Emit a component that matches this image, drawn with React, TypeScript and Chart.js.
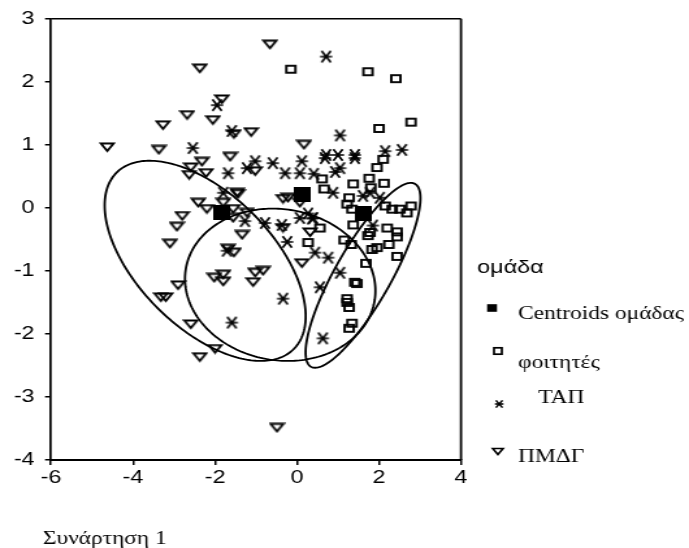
import React, { useEffect, useRef } from 'react';
import { Chart, registerables } from 'chart.js';

Chart.register(...registerables);

// ---------- data ----------
const seriesLabels = ['Centroids ομάδας', 'φοιτητές', 'ΤΑΠ', 'ΠΜΔΓ'];
const legendTitle = 'ομάδα';
const xAxisTitle = 'Συνάρτηση 1';
const xTickRange = [-6, 4, 2]; // min, max, step
const yTickRange = [-4, 3, 1];

const pmdgPoints = [
  [-4.63, 0.96], [-3.37, 0.92], [-3.27, 1.31], [-2.68, 1.47], [-2.37, 2.21], [-2.05, 1.39],
  [-1.83, 1.72], [-1.54, 1.17], [-1.12, 1.2], [-2.32, 0.73], [-2.59, 0.64], [-2.63, 0.52],
  [-2.22, 0.55], [-1.63, 0.81], [-1.46, 0.24], [-2.41, 0.08], [-2.2, -0.02], [-1.8, 0.08],
  [-1.56, -0.02], [-2.8, -0.13], [-2.93, -0.3], [-3.1, -0.57], [-2.9, -1.23], [-3.32, -1.42],
  [-3.2, -1.42], [-2.59, -1.85], [-2.0, -2.24], [-2.37, -2.37], [-1.68, -0.65], [-1.54, -0.71],
  [-2.02, -1.11], [-1.8, -1.06], [-1.8, -1.17], [-1.34, -0.43], [-1.02, -1.03], [-1.07, -1.18],
  [-1.56, -0.16], [-1.44, 0.22], [-1.22, -0.08], [-0.66, 2.59], [0.17, 1.0], [-1.02, 0.58],
  [-0.34, 0.14], [-0.22, 0.16], [0.07, 0.08], [-0.34, -0.32], [0.32, -0.39], [0.12, -0.88],
  [-0.83, -1.0], [-0.49, -3.49],
];

const tapPoints = [
  [-1.95, 1.63], [-1.59, 1.22], [-2.54, 0.95], [-1.68, 0.55], [-1.8, 0.24], [-1.71, -0.68],
  [-1.59, -1.82], [-1.22, 0.63], [-1.02, 0.74], [-1.27, -0.21], [0.71, 2.4], [1.05, 1.15],
  [-0.59, 0.71], [-0.29, 0.55], [0.07, 0.55], [0.12, 0.74], [0.41, 0.54], [0.68, 0.79],
  [0.71, 0.84], [1.0, 0.84], [1.41, 0.84], [1.41, 0.79], [0.93, 0.57], [1.05, 0.63],
  [2.15, 0.9], [2.56, 0.92], [0.88, 0.24], [1.61, 0.19], [1.78, 0.24], [2.02, 0.16],
  [0.27, -0.09], [0.37, -0.17], [0.07, -0.16], [0.39, -0.16], [-0.78, -0.24], [-0.37, -0.27],
  [-0.24, -0.54], [0.44, -0.71], [0.76, -0.79], [1.05, -1.03], [0.56, -1.26], [-0.34, -1.44],
  [0.63, -2.07], [1.85, -0.28],
];

const studentPoints = [
  [-0.15, 2.2], [1.73, 2.16], [2.41, 2.05], [2.78, 1.36], [2.0, 1.26], [2.1, 0.77],
  [1.95, 0.64], [0.61, 0.46], [0.66, 0.3], [1.37, 0.38], [1.76, 0.47], [1.8, 0.32],
  [2.12, 0.39], [1.27, 0.16], [1.22, 0.06], [1.34, -0.02], [2.15, 0.03], [2.32, -0.02],
  [2.51, -0.02], [2.68, -0.08], [2.78, 0.03], [1.37, -0.27], [2.2, -0.32], [2.44, -0.38],
  [2.44, -0.46], [1.73, -0.44], [1.78, -0.39], [1.15, -0.51], [1.32, -0.58], [1.83, -0.66],
  [1.95, -0.63], [2.24, -0.58], [2.44, -0.77], [1.68, -0.88], [0.56, -0.32], [0.27, -0.55],
  [1.41, -1.18], [1.46, -1.2], [1.22, -1.44], [1.22, -1.5], [1.27, -1.58], [1.34, -1.83],
  [1.27, -1.91],
];

const centroidPoints = [[-1.83, -0.08], [0.12, 0.22], [1.63, -0.09]];

// group ellipses: centre and two conjugate semi-axis vectors, in data units
const ellipseCentres = [[-2.24, -0.84], [-0.41, -1.22], [1.61, -1.07]];
const ellipseAxisU = [[2.16, -1.4], [2.3, -0.26], [1.27, 1.45]];
const ellipseAxisV = [[1.16, 0.75], [-0.32, -1.18], [0.59, -0.22]];

// ---------- layout ----------
const STRETCH = 1.3; // the original picture is stretched horizontally
const CANVAS_W = Math.round(689 / STRETCH);
const CANVAS_H = 548;
const AREA_LEFT = 51 / STRETCH;
const AREA_RIGHT = 461 / STRETCH;
const AREA_TOP = 17;
const AREA_BOTTOM = 460;
const SANS = '"Liberation Sans", Arial, sans-serif';
const SERIF = '"Liberation Serif", "Times New Roman", serif';

function makeMarker(w: number, h: number, draw: (c: CanvasRenderingContext2D) => void) {
  const c = document.createElement('canvas');
  c.width = w;
  c.height = h;
  const ctx = c.getContext('2d')!;
  ctx.strokeStyle = '#000';
  ctx.fillStyle = '#000';
  draw(ctx);
  return c;
}

function drawTriangle(ctx: CanvasRenderingContext2D, cx: number, cy: number, w: number, h: number) {
  ctx.beginPath();
  ctx.moveTo(cx - w / 2, cy - h / 2);
  ctx.lineTo(cx + w / 2, cy - h / 2);
  ctx.lineTo(cx, cy + h / 2);
  ctx.closePath();
  ctx.stroke();
}

function drawAsterisk(ctx: CanvasRenderingContext2D, cx: number, cy: number, w: number, h: number) {
  ctx.beginPath();
  ctx.moveTo(cx - w / 2, cy);
  ctx.lineTo(cx + w / 2, cy);
  ctx.moveTo(cx - w * 0.38, cy - h / 2);
  ctx.lineTo(cx + w * 0.38, cy + h / 2);
  ctx.moveTo(cx + w * 0.38, cy - h / 2);
  ctx.lineTo(cx - w * 0.38, cy + h / 2);
  ctx.stroke();
}

const toXY = (pts: number[][]) => pts.map(([x, y]) => ({ x, y }));

export default function App() {
  const ref = useRef<HTMLCanvasElement | null>(null);

  useEffect(() => {
    const canvas = ref.current;
    if (!canvas) return;

    const triMarker = makeMarker(13, 11, (c) => {
      c.lineWidth = 1.8;
      c.lineJoin = 'miter';
      drawTriangle(c, 6.5, 5.3, 9.8, 7.6);
    });
    const sqMarker = makeMarker(11, 11, (c) => {
      c.lineWidth = 1.9;
      c.strokeRect(2, 2, 7, 7);
    });
    const astMarker = makeMarker(12, 14, (c) => {
      c.lineWidth = 1.7;
      drawAsterisk(c, 6, 7, 9.4, 11.5);
    });
    const cenMarker = makeMarker(13, 15, (c) => {
      c.fillRect(0, 0, 13, 15);
    });

    const ellipsePlugin = {
      id: 'groupEllipses',
      beforeDatasetsDraw(chart: any) {
        const { ctx, scales } = chart;
        const xs = scales.x;
        const ys = scales.y;
        ctx.save();
        ctx.strokeStyle = '#000';
        ctx.lineWidth = 1.8;
        ellipseCentres.forEach((c, i) => {
          const u = ellipseAxisU[i];
          const v = ellipseAxisV[i];
          ctx.beginPath();
          const n = 240;
          for (let k = 0; k <= n; k++) {
            const t = (k / n) * Math.PI * 2;
            const dx = c[0] + u[0] * Math.cos(t) + v[0] * Math.sin(t);
            const dy = c[1] + u[1] * Math.cos(t) + v[1] * Math.sin(t);
            const px = xs.getPixelForValue(dx);
            const py = ys.getPixelForValue(dy);
            if (k === 0) ctx.moveTo(px, py);
            else ctx.lineTo(px, py);
          }
          ctx.closePath();
          ctx.stroke();
        });
        ctx.restore();
      },
    };

    const framePlugin = {
      id: 'frame',
      afterDraw(chart: any) {
        const { ctx, chartArea } = chart;
        ctx.save();
        ctx.strokeStyle = '#000';
        ctx.lineWidth = 1.4;
        ctx.beginPath();
        ctx.moveTo(chartArea.left, chartArea.top);
        ctx.lineTo(chartArea.right, chartArea.top);
        ctx.stroke();
        ctx.lineWidth = 1.8;
        ctx.beginPath();
        ctx.moveTo(chartArea.right, chartArea.top);
        ctx.lineTo(chartArea.right, chartArea.bottom);
        ctx.stroke();
        ctx.restore();
      },
    };

    const legendPlugin = {
      id: 'sideLegend',
      afterDraw(chart: any) {
        const { ctx } = chart;
        const labels = chart.data.datasets.map((d: any) => d.label);
        ctx.save();
        ctx.fillStyle = '#000';
        ctx.strokeStyle = '#000';
        ctx.textAlign = 'left';
        ctx.textBaseline = 'alphabetic';
        ctx.font = `18px ${SANS}`;
        ctx.fillText(legendTitle, 367, 273);

        ctx.font = `18px ${SERIF}`;
        // centroids
        ctx.fillRect(378.5 - 3.8, 308 - 3.8, 7.6, 7.6);
        ctx.fillText(labels[3], 398.5, 319);
        // students
        ctx.lineWidth = 1.7;
        ctx.strokeRect(383 - 3, 351 - 3.2, 6, 6.4);
        ctx.fillText(labels[2], 398.5, 368);
        // TAP
        ctx.lineWidth = 1.5;
        drawAsterisk(ctx, 384, 404, 6.6, 7.4);
        ctx.fillText(labels[1], 414, 403);
        // PMDG
        ctx.lineWidth = 1.6;
        drawTriangle(ctx, 383, 451.5, 8, 6);
        ctx.fillText(labels[0], 398.5, 462);

        // axis caption
        ctx.font = `18px ${SERIF}`;
        ctx.fillText(xAxisTitle, 33, 544);
        ctx.restore();
      },
    };

    const tickFont = { family: SANS, size: 18 };

    const chart = new Chart(canvas, {
      type: 'scatter',
      data: {
        datasets: [
          { label: seriesLabels[3], data: toXY(pmdgPoints), pointStyle: triMarker as any, pointRadius: 5 },
          { label: seriesLabels[2], data: toXY(tapPoints), pointStyle: astMarker as any, pointRadius: 5 },
          { label: seriesLabels[1], data: toXY(studentPoints), pointStyle: sqMarker as any, pointRadius: 5 },
          { label: seriesLabels[0], data: toXY(centroidPoints), pointStyle: cenMarker as any, pointRadius: 7 },
        ],
      },
      options: {
        animation: false,
        responsive: false,
        devicePixelRatio: 1,
        events: [],
        layout: {
          padding: { left: 0, top: AREA_TOP, right: CANVAS_W - AREA_RIGHT, bottom: 0 },
        },
        plugins: { legend: { display: false }, tooltip: { enabled: false }, title: { display: false } },
        scales: {
          x: {
            type: 'linear',
            min: xTickRange[0],
            max: xTickRange[1],
            ticks: { stepSize: xTickRange[2], color: '#000', font: tickFont, padding: 2 },
            grid: { display: true, drawOnChartArea: false, drawTicks: true, tickLength: 5, color: '#000', lineWidth: 1.5 },
            border: { display: true, color: '#000', width: 2 },
            afterFit: (s: any) => {
              s.height = CANVAS_H - AREA_BOTTOM;
            },
          },
          y: {
            type: 'linear',
            min: yTickRange[0],
            max: yTickRange[1],
            ticks: { stepSize: yTickRange[2], color: '#000', font: tickFont, padding: 8 },
            grid: { display: true, drawOnChartArea: false, drawTicks: true, tickLength: 4.6, color: '#000', lineWidth: 1.5 },
            border: { display: true, color: '#000', width: 1.7 },
            afterFit: (s: any) => {
              s.width = AREA_LEFT;
            },
          },
        },
      },
      plugins: [ellipsePlugin, framePlugin, legendPlugin],
    });

    return () => chart.destroy();
  }, []);

  return (
    <div style={{ position: 'absolute', left: 0, top: 0, width: 689, height: 548, background: '#fff' }}>
      <canvas
        ref={ref}
        width={CANVAS_W}
        height={CANVAS_H}
        style={{ width: '689px', height: '548px', display: 'block' }}
      />
    </div>
  );
}
